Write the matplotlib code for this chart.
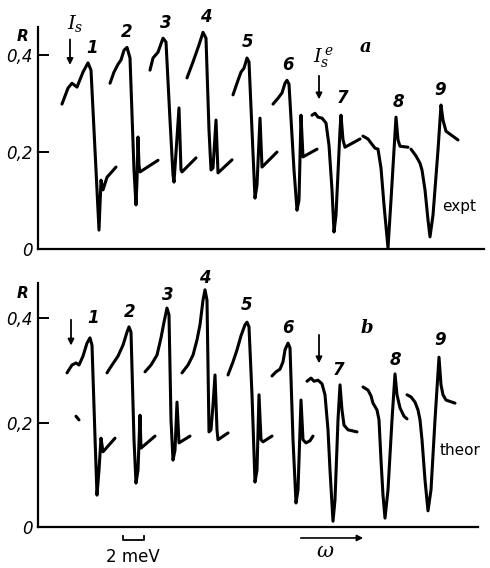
import matplotlib
matplotlib.use("Agg")
import matplotlib.pyplot as plt

plt.rcParams['mathtext.fontset'] = 'dejavuserif'

# omega axis in arbitrary units (about 1.05 units per meV), R = reflectance
# panel a: experiment, 9 resonance segments
expt_x = [
    [2.4, 3.0, 3.4, 3.9, 4.5, 5.0, 5.3, 5.8, 6.1, 6.3, 6.5, 6.9, 7.8],
    [7.2, 7.6, 8.0, 8.3, 8.6, 8.9, 9.2, 9.6, 9.8, 9.9, 10.0, 10.1, 10.2, 12.0],
    [11.2, 11.5, 12.0, 12.5, 12.8, 13.2, 13.5, 13.6, 14.1, 14.3, 14.4, 15.8],
    [14.9, 15.5, 16.1, 16.5, 16.8, 17.1, 17.3, 17.5, 17.8, 18.0, 19.4],
    [19.5, 20.0, 20.3, 20.6, 20.9, 21.1, 21.4, 21.7, 21.9, 22.2, 22.4, 23.9],
    [23.5, 24.0, 24.4, 24.7, 24.9, 25.1, 25.6, 25.9, 26.1, 26.3, 26.5, 27.9],
    [27.4, 27.7, 28.0, 28.4, 28.8, 29.1, 29.4, 29.6, 29.8, 30.2, 30.3, 30.5, 30.7, 32.2],
    [32.5, 33.0, 33.4, 33.7, 34.0, 34.3, 34.6, 35.0, 35.3, 35.6, 35.8, 36.0, 36.2, 37.0],
    [37.3, 37.8, 38.2, 38.4, 38.7, 39.0, 39.2, 39.5, 40.0, 40.3, 40.5, 40.8, 41.2, 42.0],
]
expt_r = [
    [0.299, 0.332, 0.342, 0.334, 0.365, 0.384, 0.369, 0.163, 0.039, 0.142, 0.122, 0.148, 0.169],
    [0.342, 0.365, 0.381, 0.390, 0.410, 0.416, 0.394, 0.163, 0.091, 0.142, 0.231, 0.173, 0.159, 0.183],
    [0.369, 0.394, 0.406, 0.435, 0.427, 0.266, 0.153, 0.138, 0.291, 0.163, 0.159, 0.188],
    [0.353, 0.386, 0.421, 0.447, 0.435, 0.245, 0.163, 0.167, 0.266, 0.157, 0.184],
    [0.318, 0.348, 0.365, 0.373, 0.394, 0.386, 0.245, 0.105, 0.132, 0.270, 0.169, 0.200],
    [0.299, 0.311, 0.322, 0.342, 0.348, 0.340, 0.163, 0.080, 0.101, 0.276, 0.190, 0.206],
    [0.276, 0.280, 0.272, 0.270, 0.260, 0.214, 0.122, 0.035, 0.070, 0.245, 0.276, 0.225, 0.210, 0.227],
    [0.233, 0.227, 0.216, 0.208, 0.206, 0.167, 0.091, 0.002, 0.101, 0.204, 0.272, 0.225, 0.212, 0.210],
    [0.206, 0.192, 0.177, 0.163, 0.122, 0.060, 0.025, 0.070, 0.204, 0.297, 0.266, 0.243, 0.237, 0.225],
]

# panel b: theory
theor_x = [
    [2.9, 3.4, 3.8, 4.1, 4.5, 4.9, 5.2, 5.4, 5.7, 5.9, 6.1, 6.3, 6.5, 7.7],
    [3.8, 4.1],
    [6.9, 7.4, 8.0, 8.5, 8.9, 9.1, 9.3, 9.6, 9.8, 10.0, 10.2, 10.3, 11.7],
    [10.7, 11.3, 11.9, 12.3, 12.6, 12.9, 13.1, 13.3, 13.5, 13.7, 13.9, 14.1, 15.2],
    [14.4, 15.0, 15.5, 15.9, 16.2, 16.5, 16.7, 16.9, 17.1, 17.3, 17.5, 17.7, 17.9, 18.0, 19.0],
    [19.0, 19.5, 19.9, 20.3, 20.7, 20.9, 21.1, 21.4, 21.7, 21.9, 22.1, 22.3, 22.5, 23.4],
    [23.4, 23.8, 24.2, 24.5, 24.7, 25.0, 25.2, 25.5, 25.8, 26.0, 26.3, 26.5, 26.8, 27.2, 27.5],
    [26.9, 27.3, 27.6, 28.0, 28.4, 28.7, 29.0, 29.2, 29.5, 29.7, 30.0, 30.2, 30.4, 30.6, 31.0, 31.9],
    [32.5, 33.0, 33.3, 33.5, 33.9, 34.1, 34.3, 34.5, 34.7, 35.0, 35.4, 35.7, 35.9, 36.2, 36.6, 36.9],
    [36.9, 37.3, 37.7, 38.0, 38.2, 38.4, 38.7, 39.0, 39.3, 39.7, 40.1, 40.3, 40.5, 40.8, 41.7],
]
theor_r = [
    [0.295, 0.310, 0.314, 0.310, 0.327, 0.352, 0.362, 0.348, 0.172, 0.061, 0.109, 0.170, 0.144, 0.170],
    [0.212, 0.205],
    [0.295, 0.310, 0.327, 0.348, 0.373, 0.383, 0.373, 0.167, 0.084, 0.109, 0.214, 0.151, 0.174],
    [0.297, 0.310, 0.329, 0.362, 0.392, 0.419, 0.406, 0.205, 0.128, 0.147, 0.239, 0.161, 0.174],
    [0.295, 0.310, 0.329, 0.358, 0.387, 0.434, 0.454, 0.434, 0.182, 0.186, 0.233, 0.291, 0.186, 0.167, 0.180],
    [0.291, 0.316, 0.339, 0.366, 0.387, 0.392, 0.383, 0.253, 0.086, 0.109, 0.253, 0.167, 0.163, 0.174],
    [0.289, 0.297, 0.302, 0.316, 0.339, 0.352, 0.343, 0.167, 0.046, 0.071, 0.243, 0.167, 0.161, 0.165, 0.174],
    [0.279, 0.285, 0.279, 0.281, 0.274, 0.253, 0.186, 0.109, 0.011, 0.052, 0.205, 0.272, 0.224, 0.195, 0.186, 0.182],
    [0.268, 0.262, 0.251, 0.237, 0.224, 0.205, 0.128, 0.061, 0.017, 0.071, 0.205, 0.293, 0.253, 0.228, 0.212, 0.207],
    [0.253, 0.249, 0.239, 0.224, 0.205, 0.167, 0.090, 0.031, 0.071, 0.205, 0.325, 0.272, 0.253, 0.243, 0.237],
]

peak_labels = ['1', '2', '3', '4', '5', '6', '7', '8', '9']
expt_label_pos = [(5.4, 0.414), (8.9, 0.447), (12.8, 0.466), (16.8, 0.478), (21.0, 0.427),
                  (25.0, 0.379), (30.5, 0.311), (36.0, 0.303), (40.2, 0.328)]
theor_label_pos = [(5.5, 0.400), (9.2, 0.411), (13.0, 0.444), (16.7, 0.477), (20.9, 0.425),
                   (25.0, 0.381), (30.1, 0.300), (35.7, 0.320), (40.2, 0.358)]

yticks = [0, 0.2, 0.4]
ytick_labels = ['0', '0,2', '0,4']

fig = plt.figure(figsize=(4.9, 5.68), dpi=100)
ax_a = fig.add_axes([38 / 490, 1 - 249 / 568, 446 / 490, 222 / 568])
ax_b = fig.add_axes([38 / 490, 1 - 527 / 568, 440 / 490, 244 / 568])
ax_a.set_xlim(0, 44.6)
ax_a.set_ylim(0, 0.458)
ax_b.set_xlim(0, 44.0)
ax_b.set_ylim(0, 0.467)

num_font = dict(fontsize=12, style='italic', weight='bold', color='k',
                ha='center', va='center')


def setup(ax):
    for s in ['top', 'right']:
        ax.spines[s].set_visible(False)
    for s in ['left', 'bottom']:
        ax.spines[s].set_linewidth(1.6)
    ax.set_xticks([])
    ax.set_yticks(yticks)
    ax.set_yticklabels(ytick_labels, fontsize=12, style='italic')
    ax.tick_params(axis='y', direction='in', length=8, width=1.4, pad=4)
    ax.text(-1.5, ax.get_ylim()[1] - 0.02, 'R', fontsize=11, style='italic',
            weight='bold', ha='center', va='center', clip_on=False)


def arrow(ax, x, r0, r1):
    ax.annotate('', xy=(x, r1), xytext=(x, r0),
                arrowprops=dict(arrowstyle='-|>', lw=1.3, color='k', mutation_scale=9))


for ax, xs, rs, pos in [(ax_a, expt_x, expt_r, expt_label_pos),
                        (ax_b, theor_x, theor_r, theor_label_pos)]:
    setup(ax)
    for x, r in zip(xs, rs):
        ax.plot(x, r, color='k', lw=2.2, solid_capstyle='round',
                solid_joinstyle='round', clip_on=False)
    for lab, (x, r) in zip(peak_labels, pos):
        ax.text(x, r, lab, clip_on=False, **num_font)

# panel a annotations
ax_a.text(3.7, 0.465, r'$I_s$', fontsize=14, ha='center', va='center')
arrow(ax_a, 3.2, 0.438, 0.374)
ax_a.text(28.5, 0.396, r'$I_s^{\,e}$', fontsize=14, ha='center', va='center')
arrow(ax_a, 28.1, 0.363, 0.303)
ax_a.text(32.8, 0.416, 'a', fontsize=13, style='italic', weight='bold',
          family='DejaVu Serif', ha='center', va='center')
ax_a.text(40.4, 0.087, 'expt', fontsize=11, ha='left', va='center')

# panel b annotations
arrow(ax_b, 3.3, 0.402, 0.342)
arrow(ax_b, 28.1, 0.373, 0.308)
ax_b.text(32.9, 0.381, 'b', fontsize=13, style='italic', weight='bold',
          family='DejaVu Serif', ha='center', va='center')
ax_b.text(40.2, 0.147, 'theor', fontsize=11, ha='left', va='center')

# scale bar and omega direction below panel b
ax_b.plot([8.5, 8.5, 10.6, 10.6], [-0.017, -0.025, -0.025, -0.017], color='k',
          lw=1.3, clip_on=False)
ax_b.text(9.5, -0.058, '2 meV', fontsize=12, ha='center', va='center')
ax_b.annotate('', xy=(32.8, -0.021), xytext=(26.0, -0.021), annotation_clip=False,
              arrowprops=dict(arrowstyle='-|>', lw=1.2, color='k', mutation_scale=9))
ax_b.text(28.7, -0.045, r'$\omega$', fontsize=15, ha='center', va='center')

fig.savefig('out.png', dpi=100)
